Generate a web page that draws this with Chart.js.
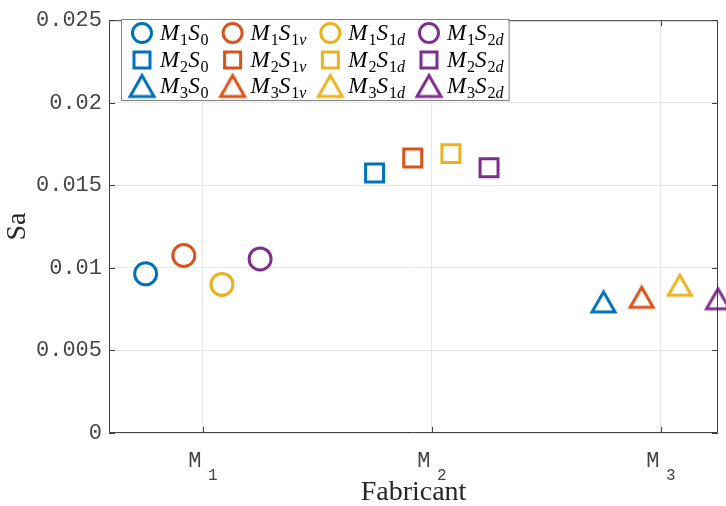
<!DOCTYPE html>
<html>
<head>
<meta charset="utf-8">
<script src="https://cdn.jsdelivr.net/npm/chart.js@4"></script>
<style>
html, body { margin: 0; padding: 0; background: #fff; }
#wrap { width: 726px; height: 506px; }
</style>
</head>
<body>
<div id="wrap"><canvas id="saChart"></canvas></div>
<script>
// categories and series
const fabricants = ['M_1', 'M_2', 'M_3'];
const seriesNames = ['S_0', 'S_{1v}', 'S_{1d}', 'S_{2d}'];
const colors = ['#0072BD', '#D95319', '#EDB120', '#7E2F8E'];

// Sa values per series, one per fabricant
const saS0  = [0.00964, 0.01575, 0.00794];
const saS1v = [0.01075, 0.01666, 0.00822];
const saS1d = [0.00900, 0.01692, 0.00895];
const saS2d = [0.01054, 0.01606, 0.00813];
const seriesValues = [saS0, saS1v, saS1d, saS2d];

const yTicks = [0, 0.005, 0.01, 0.015, 0.02, 0.025];

const serif = '"Liberation Serif", "Times New Roman", serif';
const mono = '"Liberation Mono", "Courier New", monospace';

// matlab-like triangle, centred on its bounding box
function triangleMarker(color, side, lw) {
    const h = side * Math.sqrt(3) / 2;
    const pad = lw * 2;
    const c = document.createElement('canvas');
    c.width = Math.ceil(side + pad * 2);
    c.height = Math.ceil(h + pad * 2);
    const g = c.getContext('2d');
    g.strokeStyle = color;
    g.lineWidth = lw;
    g.lineJoin = 'miter';
    const cx = c.width / 2, cy = c.height / 2;
    g.beginPath();
    g.moveTo(cx, cy - h / 2);
    g.lineTo(cx + side / 2, cy + h / 2);
    g.lineTo(cx - side / 2, cy + h / 2);
    g.closePath();
    g.stroke();
    return c;
}

const triPlot = colors.map(c => triangleMarker(c, 23, 3));
const triLegend = colors.map(c => triangleMarker(c, 24, 3));

// draws strings like M_1S_{1v}
function drawMath(ctx, str, x, y, size, measureOnly) {
    let i = 0;
    while (i < str.length) {
        let sub = false, t;
        if (str[i] === '_') {
            sub = true; i++;
            if (str[i] === '{') {
                const e = str.indexOf('}', i);
                t = str.slice(i + 1, e); i = e + 1;
            } else { t = str[i]; i++; }
        } else { t = str[i]; i++; }
        for (const ch of t) {
            const italic = /[A-Za-z]/.test(ch);
            const fs = sub ? size * 0.7 : size;
            ctx.font = (italic ? 'italic ' : '') + fs + 'px ' + serif;
            if (!measureOnly) ctx.fillText(ch, x, sub ? y + size * 0.22 : y);
            x += ctx.measureText(ch).width;
        }
        if (!sub) x += size * 0.04;
    }
    return x;
}

const frame = {
    id: 'frame',
    afterDatasetsDraw(chart) {
        const {ctx, chartArea: a, scales} = chart;
        ctx.save();
        ctx.strokeStyle = '#404040';
        ctx.lineWidth = 1;
        ctx.beginPath();
        // box
        ctx.rect(a.left + 0.5, a.top + 0.5, a.right - a.left - 1, a.bottom - a.top - 1);
        // inward ticks
        const tl = 6;
        scales.x.ticks.forEach(t => {
            const px = Math.round(scales.x.getPixelForValue(t.value)) + 0.5;
            ctx.moveTo(px, a.bottom); ctx.lineTo(px, a.bottom - tl);
            ctx.moveTo(px, a.top); ctx.lineTo(px, a.top + tl);
        });
        scales.y.ticks.forEach(t => {
            const py = Math.round(scales.y.getPixelForValue(t.value)) + 0.5;
            ctx.moveTo(a.left, py); ctx.lineTo(a.left + tl, py);
            ctx.moveTo(a.right, py); ctx.lineTo(a.right - tl, py);
        });
        ctx.stroke();
        ctx.restore();
    },
    afterDraw(chart) {
        const {ctx, scales} = chart;
        ctx.save();
        // x tick labels with lowered index
        ctx.fillStyle = '#444';
        ctx.textAlign = 'center';
        ctx.textBaseline = 'alphabetic';
        fabricants.forEach((f, i) => {
            const px = scales.x.getPixelForValue(i + 1);
            const [base, sub] = f.split('_');
            ctx.font = '22px ' + mono;
            ctx.fillText(base, px - 8, 467);
            ctx.font = '16px ' + mono;
            ctx.fillText(sub, px + 10, 480);
        });

        // legend: columns = series, rows = fabricant
        const left = 121, top = 19.5, bottom = 100.5;
        const rows = [33, 60, 86];
        const size = 23;
        ctx.textAlign = 'left';
        let mx = left + 21;
        const cols = [];
        seriesNames.forEach((s, c) => {
            let w = 0;
            fabricants.forEach(f => {
                w = Math.max(w, drawMath(ctx, f + s, 0, 0, size, true));
            });
            cols.push({mx: mx, tx: mx + 18});
            mx = mx + 18 + w + 24;
        });
        const right = mx - 24 + 5;
        ctx.fillStyle = '#fff';
        ctx.fillRect(left, top, right - left, bottom - top);
        ctx.strokeStyle = '#808080';
        ctx.lineWidth = 1;
        ctx.strokeRect(left + 0.5, top, right - left, bottom - top);

        seriesNames.forEach((s, c) => {
            const col = cols[c];
            fabricants.forEach((f, r) => {
                const y = rows[r];
                ctx.strokeStyle = colors[c];
                ctx.lineWidth = 3;
                if (r === 0) {
                    ctx.beginPath();
                    ctx.arc(col.mx, y, 9.5, 0, Math.PI * 2);
                    ctx.stroke();
                } else if (r === 1) {
                    ctx.strokeRect(col.mx - 8, y - 8, 16, 16);
                } else {
                    const img = triLegend[c];
                    ctx.drawImage(img, col.mx - img.width / 2, y - img.height / 2);
                }
                ctx.fillStyle = '#000';
                drawMath(ctx, f + s, col.tx, y + 7, size, false);
            });
        });
        ctx.restore();
    }
};

const datasets = seriesValues.map((vals, i) => ({
    label: seriesNames[i],
    data: vals.map((v, j) => ({ x: j + 1 + (i - 1.5) / 6, y: v })),
    pointStyle: ['circle', 'rect', triPlot[i]],
    pointRadius: [11, 12.7, 12],
    pointHoverRadius: [11, 12.7, 12],
    pointBorderWidth: 3,
    pointBorderColor: colors[i],
    pointBackgroundColor: 'rgba(0,0,0,0)',
    borderColor: colors[i],
    showLine: false,
    clip: false
}));

const ctx = document.getElementById('saChart').getContext('2d');
const chart = new Chart(ctx, {
    type: 'scatter',
    data: { datasets: datasets },
    options: {
        responsive: true,
        maintainAspectRatio: false,
        animation: false,
        events: [],
        layout: { autoPadding: false, padding: { top: 17, right: 8, left: 0, bottom: 0 } },
        plugins: {
            legend: { display: false },
            tooltip: { enabled: false }
        },
        scales: {
            x: {
                type: 'linear',
                min: 0.59,
                max: 3.25,
                afterBuildTicks: s => { s.ticks = fabricants.map((f, i) => ({ value: i + 1 })); },
                afterFit: s => { s.height = 73; },
                grid: { color: '#e6e6e6', drawTicks: false },
                border: { display: false },
                ticks: { display: false },
                title: {
                    display: true,
                    text: 'Fabricant',
                    color: '#262626',
                    font: { family: serif, size: 28, lineHeight: 0.95 },
                    padding: 0
                }
            },
            y: {
                min: 0,
                max: 0.025,
                afterBuildTicks: s => { s.ticks = yTicks.map(v => ({ value: v })); },
                afterFit: s => { s.width = 109; },
                grid: { color: '#e6e6e6', drawTicks: false },
                border: { display: false },
                ticks: {
                    padding: 7,
                    color: '#444',
                    font: { family: mono, size: 22 },
                    callback: v => String(+v.toFixed(3))
                },
                title: {
                    display: true,
                    text: 'Sa',
                    color: '#262626',
                    font: { family: serif, size: 28 },
                    padding: { top: 1, bottom: 0 }
                }
            }
        }
    },
    plugins: [frame]
});
</script>
</body>
</html>
